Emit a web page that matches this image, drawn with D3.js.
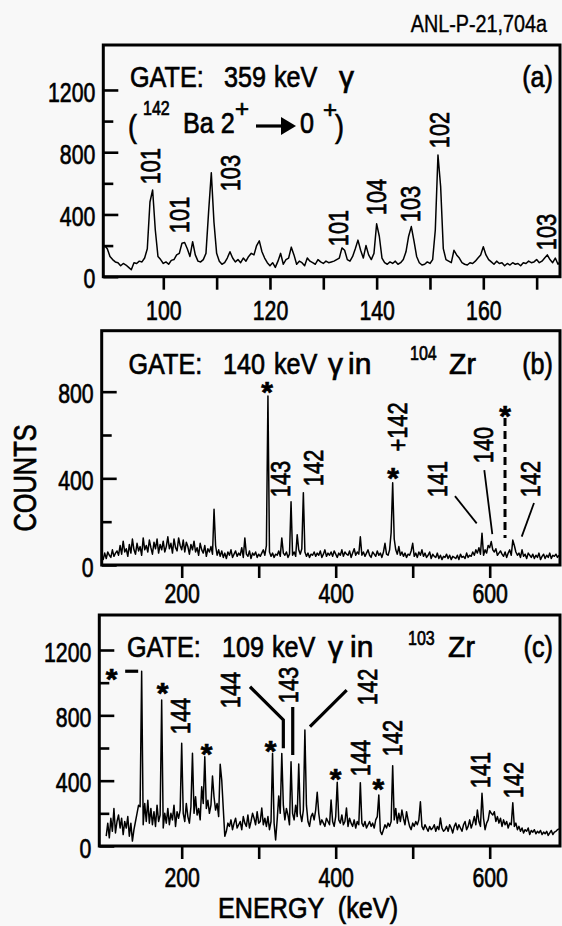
<!DOCTYPE html>
<html><head><meta charset="utf-8">
<script src="https://cdn.jsdelivr.net/npm/d3@7"></script>
<style>body{margin:0;background:#f8f8f8}</style>
</head><body>
<svg id="chart" width="562" height="926"></svg>
<script>
// ---------------- DATA ----------------
// Panel (a): gate 359 keV, channel bins start 89 keV, 0.5 keV wide
const aStart = 89, aStep = 0.5;
const aCounts = [
 200,180,130,110,95,90,70,85,75,60, 45,90,85,100,95,120,180,480,557,300,
 130,110,85,95,80,105,110,140,150,215, 220,180,130,225,140,100,95,110,150,420,
 668,350,150,100,80,90,120,160,120,95, 110,90,120,100,130,150,140,200,230,160,
 120,90,70,90,60,100,150,80,110,120, 190,140,80,100,90,70,120,100,90,80,
 110,95,85,100,90,95,100,110,120,185, 170,110,100,130,180,235,170,120,200,140,
 110,150,340,260,120,90,80,95,85,100, 80,90,110,160,260,322,230,130,90,75,
 80,95,85,110,300,782,580,180,110,100, 90,170,140,120,90,80,75,90,85,100,
 120,140,193,140,110,95,80,100,85,90, 70,85,75,90,80,85,70,90,85,100,
 90,95,110,90,100,120,140,110,90,120, 80,100
];
// Panel (b): gate 140 keV in 104Zr, bins start 96 keV, 2 keV wide
const bStart = 96, bStep = 2;
const bCounts = [
 40,25,55,30,60,45,35,70,40,55,
 65,45,90,50,110,60,75,40,95,55,
 120,70,50,100,65,85,45,125,70,90,
 60,115,80,50,105,75,120,55,95,70,
 110,60,85,130,75,100,55,120,80,65,
 125,90,70,115,60,105,85,50,95,70,
 110,60,80,45,100,70,55,90,40,75,
 60,85,50,257,90,45,70,40,65,35,
 55,30,60,45,70,35,50,65,40,55,
 45,80,35,125,50,40,65,30,55,45,
 60,35,50,40,55,70,45,90,780,60,
 40,55,35,50,45,65,40,125,55,45,
 60,35,50,292,45,60,40,140,70,50,
 75,334,60,40,55,35,50,45,60,40,
 55,45,65,35,50,70,40,55,45,60,
 40,65,50,35,55,45,70,40,60,50,
 45,65,35,55,75,45,60,50,130,45,
 60,40,55,70,45,35,60,50,40,65,
 45,55,35,60,100,50,45,70,150,380,
 120,70,50,85,45,60,40,55,35,50,
 45,65,100,40,55,35,60,45,70,40,
 55,35,45,60,30,50,40,35,55,30,
 45,25,40,35,50,30,45,25,40,35,
 30,45,25,50,35,40,30,55,35,45,
 40,60,45,70,55,80,50,147,45,70,
 55,90,80,108,70,60,75,45,55,65,
 50,40,60,35,55,70,45,115,90,60,
 45,55,35,70,40,50,30,55,45,35,
 50,30,45,35,55,25,40,50,30,45,
 35,55,30,45,40,50,35,45
];
// Panel (c): gate 109 keV in 103Zr, bins start 102 keV, 2 keV wide
const cStart = 102, cStep = 2;
const cCounts = [
 60,140,50,170,90,230,80,150,190,110,
 170,70,150,110,180,60,140,30,100,150,
 200,250,240,1070,130,260,150,280,140,230,
 130,210,120,250,150,190,894,110,200,140,
 230,130,200,160,250,120,210,170,220,629,
 200,150,260,180,140,240,568,200,302,190,
 230,160,363,260,547,230,280,200,250,429,
 300,220,260,180,500,404,230,60,90,140,
 120,160,100,140,170,110,130,150,100,180,
 140,120,190,110,150,200,170,130,210,140,
 150,232,130,170,120,180,100,150,567,140,
 37,160,306,200,567,250,160,230,190,130,
 516,200,160,250,180,502,200,150,220,710,
 250,150,120,180,200,160,220,329,200,130,
 160,140,120,170,150,130,282,150,120,180,
 390,160,140,190,130,150,233,120,170,140,
 120,160,110,150,130,388,140,120,150,110,
 130,150,120,140,110,160,180,312,90,70,
 100,130,110,140,120,150,492,160,230,140,
 200,150,220,170,130,210,160,120,100,140,
 120,150,130,160,271,120,100,130,110,90,
 120,100,110,130,90,120,100,171,110,90,
 100,120,90,130,110,80,120,140,100,130,
 110,90,130,150,100,120,160,110,140,180,
 130,220,150,120,323,170,100,140,160,216,
 200,190,210,150,180,140,170,120,160,130,
 150,110,140,130,265,120,140,100,120,90,
 110,80,100,90,110,70,95,85,100,75,
 90,80,95,70,85,75,90,65,80,95,
 70,85,90,100,105
];

// tick values
const aXTicks = [100,110,120,130,140,150,160,170];
const aXLabels = [100,120,140,160];
const bcXTicks = [200,300,400,500,600];
const bcXLabels = [200,400,600];
const yMajorAC = [0,400,800,1200];
const yMinorAC = [200,600,1000];
const yMajorB = [0,400,800];
const yMinorB = [200,600];

// peak labels: [text, energy, counts] (label centre, data units)
const aLabels = [["101",97.5,711],["101",102.9,397],["103",112.5,666],["101",132.8,313],
                 ["104",139.8,512],["103",146.3,467],["102",151.7,943],["103",171.8,287]];
const bLabels = [["143",327.7,397],["142",370.5,448],["+142",479.2,637],["141",531.2,397],
                 ["140",591.3,554],["142",652.3,397]];
const bStars = [[310.8,826],[474.4,430],[619.9,715]];
const bLeaders = [[[554.9,318],[583.1,192]],[[593,438],[603.4,143]],[[657.5,286],[641.6,131]]];
const bDashed = [[619.9,678],[619.9,125]];
const cLabels = [["144",197.8,796],["144",262.7,955],["143",338.4,986],["142",440.3,974],
                 ["144",431.6,539],["142",472.7,661],["141",587.4,465],["142",630.6,404]];
const cStars = [[109.1,1059],[175.3,975],[232.5,602],[315.6,618],[400,445],[455.3,384]];
const cLeaders = [[[288.7,975],[332,772],[332,599]],[[344.2,851],[344.2,557]],
                  [[414.3,955],[366.6,731]],[[126.6,1070],[143.5,1070]]];

// ---------------- DRAWING ----------------
const FONT = "'Liberation Sans', Arial, Helvetica, sans-serif";
const TSW = 0.7; // stroke to mimic heavy printed type
const svg = d3.select('#chart');
svg.append('rect').attr('width',562).attr('height',926).attr('fill','#f8f8f8');

function txt(g, x, y, s, o) {
  o = o || {};
  const t = g.append('text')
    .attr('transform', `translate(${x},${y})` + (o.rot ? ' rotate(-90)' : '') + ` scale(${o.sx||0.78},1)`)
    .attr('font-family', FONT).attr('font-size', o.fs||28)
    .attr('font-weight', o.bold ? 'bold' : 'normal')
    .attr('text-anchor', o.anchor||'start').attr('fill','#000')
    .attr('stroke','#000').attr('stroke-width', o.sw===undefined ? TSW : o.sw)
    .text(s);
  if (o.central) t.attr('dominant-baseline','central');
  return t;
}

const panels = [
  {id:'a', start:aStart, step:aStep, counts:aCounts, xDom:[88.75,174.38], yDom:[0,1489],
   left:103.3, right:560, top:45, bottom:276.7, xTicks:aXTicks, xLabels:aXLabels,
   yMajor:yMajorAC, yMinor:yMinorAC, labDy:43, labels:aLabels, stars:[], leaders:[], lw:1.6},
  {id:'b', start:bStart, step:bStep, counts:bCounts, xDom:[96.1,691.3], yDom:[0,1081.4],
   left:101.7, right:560, top:330.7, bottom:565, xTicks:bcXTicks, xLabels:bcXLabels,
   yMajor:yMajorB, yMinor:yMinorB, labDy:38, labels:bLabels, stars:bStars, leaders:bLeaders, lw:1.8},
  {id:'c', start:cStart, step:cStep, counts:cCounts, xDom:[93.0,691.3], yDom:[0,1414.3],
   left:99.3, right:560, top:615, bottom:846, xTicks:bcXTicks, xLabels:bcXLabels,
   yMajor:yMajorAC, yMinor:yMinorAC, labDy:41, labels:cLabels, stars:cStars, leaders:cLeaders, lw:3.2}
];

panels.forEach(p => {
  const x = d3.scaleLinear().domain(p.xDom).range([p.left, p.right]);
  const y = d3.scaleLinear().domain(p.yDom).range([p.bottom, p.top]);
  p.x = x; p.y = y;
  const g = svg.append('g');
  g.append('clipPath').attr('id','clip'+p.id).append('rect')
    .attr('x',p.left).attr('y',p.top).attr('width',p.right-p.left).attr('height',p.bottom-p.top);

  // spectrum
  const pts = p.counts.map((c,i) => [p.start + i*p.step, c]);
  g.append('path').attr('clip-path',`url(#clip${p.id})`)
    .attr('d', d3.line().x(d=>x(d[0])).y(d=>y(d[1]))(pts))
    .attr('fill','none').attr('stroke','#000').attr('stroke-width',1.5).attr('stroke-linejoin','round');

  // y axis major (inward)
  g.append('g').attr('transform',`translate(${p.left},0)`)
    .call(d3.axisLeft(y).tickValues(p.yMajor).tickSize(-15).tickFormat(d3.format('d')))
    .call(s => {
      s.select('.domain').remove();
      s.selectAll('line').attr('stroke','#000').attr('stroke-width',2.6);
      s.selectAll('text').attr('x',null).attr('dy',null)
        .attr('transform','translate(-8,1) scale(0.76,1)')
        .attr('dominant-baseline','central').attr('text-anchor','end')
        .attr('font-size',28).attr('font-family',FONT).attr('fill','#000')
        .attr('stroke','#000').attr('stroke-width',TSW);
    });
  // y axis minor
  g.append('g').attr('transform',`translate(${p.left},0)`)
    .call(d3.axisLeft(y).tickValues(p.yMinor).tickSize(-10).tickFormat(''))
    .call(s => { s.select('.domain').remove(); s.selectAll('line').attr('stroke','#000').attr('stroke-width',2.6); });

  // x axis (outward)
  g.append('g').attr('transform',`translate(0,${p.bottom})`)
    .call(d3.axisBottom(x).tickValues(p.xTicks).tickSize(13)
      .tickFormat(d => p.xLabels.includes(d) ? d : ''))
    .call(s => {
      s.select('.domain').remove();
      s.selectAll('line').attr('stroke','#000').attr('stroke-width',2.6);
      s.selectAll('text').attr('y',null).attr('dy',null)
        .attr('transform',`translate(0,${p.labDy}) scale(0.76,1)`)
        .attr('font-size',28).attr('font-family',FONT).attr('fill','#000')
        .attr('stroke','#000').attr('stroke-width',TSW);
    });

  // frame
  g.append('rect').attr('x',p.left).attr('y',p.top).attr('width',p.right-p.left).attr('height',p.bottom-p.top)
    .attr('fill','none').attr('stroke','#000').attr('stroke-width',3);

  // peak labels
  p.labels.forEach(l => txt(g, x(l[1]), y(l[2]), l[0], {rot:true, anchor:'middle', central:true, fs:28, sx:0.78}));
  // stars
  p.stars.forEach(s => txt(g, x(s[0]), y(s[1]) + 16, '*', {anchor:'middle', fs:30, bold:true, sx:1}));
  // leaders
  p.leaders.forEach(L => g.append('path')
    .attr('d', d3.line().x(d=>x(d[0])).y(d=>y(d[1]))(L))
    .attr('fill','none').attr('stroke','#000').attr('stroke-width',p.lw));
});

// dashed marker in (b)
{
  const p = panels[1];
  svg.append('path').attr('d', d3.line().x(d=>p.x(d[0])).y(d=>p.y(d[1]))(bDashed))
    .attr('stroke','#000').attr('stroke-width',3).attr('stroke-dasharray','8,5').attr('fill','none');
}

// headers
const HS = 0.84, HF = 30;
// (a)
txt(svg,130,87,'GATE:',{fs:HF,sx:HS});
txt(svg,224,87,'359',{fs:HF,sx:HS});
txt(svg,274,87,'keV',{fs:HF,sx:HS});
txt(svg,339,87,'γ',{fs:HF,sx:1});
txt(svg,553,87,'(a)',{fs:HF,sx:HS,anchor:'end'});
txt(svg,128,137,'(',{fs:32,sx:HS});
txt(svg,143,115,'142',{fs:20,sx:0.8});
txt(svg,183,133,'Ba 2',{fs:HF,sx:HS});
txt(svg,235,117,'+',{fs:24,sx:1});
// arrow glyph drawn as a short bold arrow next to the text
svg.append('path').attr('d','M256,126 L285,126').attr('stroke','#000').attr('stroke-width',3.2);
svg.append('path').attr('d','M281,117 L296,126 L281,135 Z').attr('fill','#000');
txt(svg,300,133,'0',{fs:HF,sx:HS});
txt(svg,323,118,'+',{fs:24,sx:1});
txt(svg,335,137,')',{fs:32,sx:HS});
// (b)
txt(svg,128.5,373.5,'GATE:',{fs:HF,sx:HS});
txt(svg,223,373.5,'140',{fs:HF,sx:HS});
txt(svg,274,373.5,'keV',{fs:HF,sx:HS});
txt(svg,328,373.5,'γ',{fs:HF,sx:1});
txt(svg,348,373.5,'in',{fs:HF,sx:1});
txt(svg,410,360,'104',{fs:20,sx:0.8});
txt(svg,449,373.5,'Zr',{fs:HF,sx:0.95});
txt(svg,553,373.5,'(b)',{fs:HF,sx:HS,anchor:'end'});
// (c)
txt(svg,127,657,'GATE:',{fs:HF,sx:HS});
txt(svg,222,657,'109',{fs:HF,sx:HS});
txt(svg,272,657,'keV',{fs:HF,sx:HS});
txt(svg,328,657,'γ',{fs:HF,sx:1});
txt(svg,350,657,'in',{fs:HF,sx:1});
txt(svg,408,645,'103',{fs:20,sx:0.8});
txt(svg,448,657,'Zr',{fs:HF,sx:0.95});
txt(svg,553,657,'(c)',{fs:HF,sx:HS,anchor:'end'});

// titles
txt(svg,547,32,'ANL-P-21,704a',{fs:23,sx:0.86,anchor:'end',sw:0.4});
txt(svg,25,478,'COUNTS',{fs:31,sx:0.82,rot:true,anchor:'middle',central:true});
txt(svg,308,918,'ENERGY  (keV)',{fs:30,sx:0.84,anchor:'middle'}).style('white-space','pre');
</script>
</body></html>
